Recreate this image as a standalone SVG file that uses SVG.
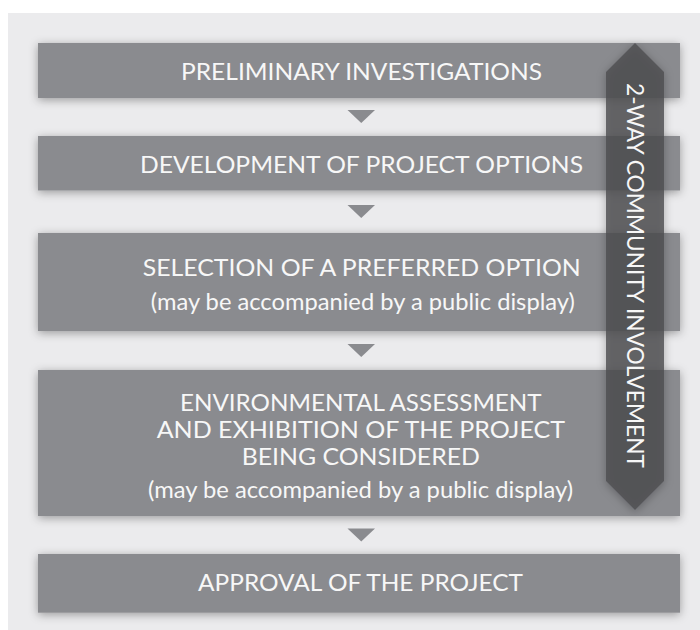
<svg xmlns="http://www.w3.org/2000/svg" width="700" height="630" viewBox="0 0 700 630">
  <defs>
    <filter id="shadow" x="-10%" y="-30%" width="120%" height="160%">
      <feDropShadow dx="0" dy="2" stdDeviation="5" flood-color="#000000" flood-opacity="0.35"/>
    </filter>
    <filter id="shadow2" x="-40%" y="-10%" width="180%" height="120%">
      <feDropShadow dx="0" dy="2" stdDeviation="5" flood-color="#000000" flood-opacity="0.35"/>
    </filter>
  </defs>
  <style>
    .box { fill: #8a8b8f; filter: url(#shadow); }
    .t { font-family: Lato, "Open Sans", "Liberation Sans", sans-serif; font-size: 24px; fill: #f7f7f7; text-anchor: middle; }
    .tri { fill: #8a8b8f; }
    .arrow { fill: #4c4c4f; fill-opacity: 0.8; filter: url(#shadow2); }
  </style>
  <rect x="0" y="0" width="700" height="630" fill="#ffffff"/>
  <rect x="8" y="13" width="692" height="617" fill="#ebebed"/>

  <g id="connectors">
    <polygon class="tri" points="347.5,110 375,110 361.25,123"/>
    <polygon class="tri" points="347.5,205 375,205 361.25,218"/>
    <polygon class="tri" points="347.5,344 375,344 361.25,357"/>
    <polygon class="tri" points="347.5,528.5 375,528.5 361.25,541.5"/>
  </g>

  <g id="preliminary">
    <rect class="box" x="38" y="43" width="642" height="55"/>
    <text class="t" x="361.5" y="80" textLength="361" lengthAdjust="spacingAndGlyphs">PRELIMINARY INVESTIGATIONS</text>
  </g>

  <g id="development">
    <rect class="box" x="38" y="136" width="642" height="54.5"/>
    <text class="t" x="361.5" y="173.3" textLength="443" lengthAdjust="spacingAndGlyphs">DEVELOPMENT OF PROJECT OPTIONS</text>
  </g>

  <g id="selection">
    <rect class="box" x="38" y="233" width="642" height="98"/>
    <text class="t" x="361.8" y="275.7" textLength="438" lengthAdjust="spacingAndGlyphs">SELECTION OF A PREFERRED OPTION</text>
    <text class="t" x="362.8" y="309.5" textLength="424" lengthAdjust="spacingAndGlyphs">(may be accompanied by a public display)</text>
  </g>

  <g id="environmental">
    <rect class="box" x="38" y="370" width="642" height="146"/>
    <text class="t" x="360.8" y="410.7" textLength="361.7" lengthAdjust="spacingAndGlyphs">ENVIRONMENTAL ASSESSMENT</text>
    <text class="t" x="360.8" y="438" textLength="408.3" lengthAdjust="spacingAndGlyphs">AND EXHIBITION OF THE PROJECT</text>
    <text class="t" x="360.8" y="465" textLength="238.3" lengthAdjust="spacingAndGlyphs">BEING CONSIDERED</text>
    <text class="t" x="360.5" y="498" textLength="425" lengthAdjust="spacingAndGlyphs">(may be accompanied by a public display)</text>
  </g>

  <g id="approval">
    <rect class="box" x="38" y="554" width="642" height="58.7"/>
    <text class="t" x="360.5" y="590.7" textLength="325" lengthAdjust="spacingAndGlyphs">APPROVAL OF THE PROJECT</text>
  </g>

  <g id="community">
    <polygon class="arrow" points="635,43 664,72 664,481 635,510 606,481 606,72"/>
    <text class="t" transform="translate(627,275.5) rotate(90)" x="0" y="0" textLength="385" lengthAdjust="spacingAndGlyphs">2-WAY COMMUNITY INVOLVEMENT</text>
  </g>
</svg>
